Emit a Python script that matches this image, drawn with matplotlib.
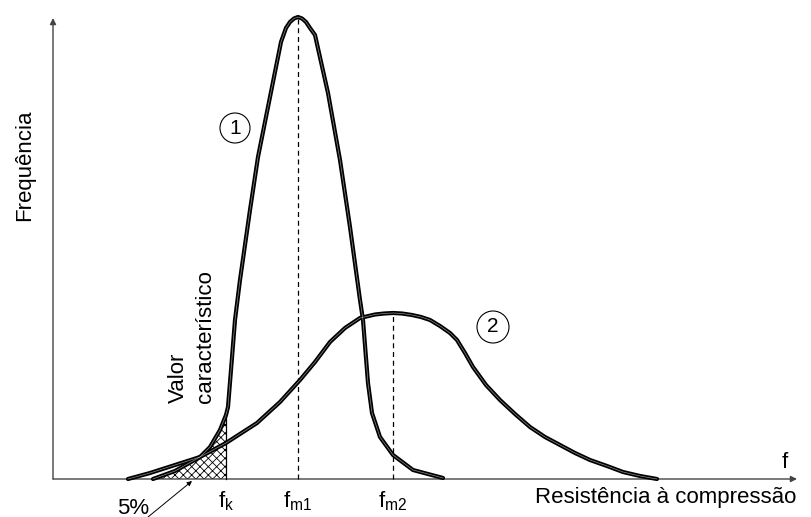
import matplotlib
matplotlib.use("Agg")
import matplotlib.pyplot as plt
from matplotlib.patches import Circle

plt.rcParams['font.family'] = ['Liberation Sans', 'DejaVu Sans']
plt.rcParams['mathtext.fontset'] = 'custom'
plt.rcParams['mathtext.rm'] = 'Liberation Sans'
plt.rcParams['mathtext.it'] = 'Liberation Sans'
plt.rcParams['hatch.linewidth'] = 0.6

# --- data (resistance f, frequency), origin at the axes corner ---
# curve 1: narrow distribution
f1 = [100, 122, 147, 157, 167, 173, 175, 178, 182, 187, 197, 205, 219, 228, 233,
      237, 241, 245, 249, 253, 257, 262, 275, 287, 297, 307, 310, 315, 319, 327,
      340, 360, 390]
p1 = [0, 8, 22, 32, 49, 64, 72, 109, 159, 199, 269, 322, 392, 437, 451,
      457, 460.5, 462, 460.5, 457, 451, 444, 386, 319, 252, 179, 159, 96, 66, 42,
      24, 9, 1]
# curve 2: wide distribution
f2 = [75, 97, 122, 147, 173, 204, 227, 247, 262, 277, 292, 307, 322, 331, 340,
      349, 359, 368, 377, 387, 397, 404, 412, 420, 433, 447, 462, 477, 492, 507,
      522, 537, 554, 570, 587, 604]
p2 = [0, 6, 14, 22, 36, 56, 77, 99, 117, 137, 151, 161, 164.5, 165.5, 166,
      165.5, 164, 162, 159, 153, 146, 139, 126, 112, 94, 79, 65, 52, 42, 34,
      26, 19, 13, 7, 3, 0]

f_k = 173
f_m1 = 245
f_m2 = 340
p_k = 64       # curve 1 at f_k
p_m1 = 462
p_m2 = 166

x_max = 744
y_max = 461


def double_line(ax, x, y):
    ax.plot(x, y, color='black', lw=3.0, solid_capstyle='round', solid_joinstyle='round', zorder=4)
    ax.plot(x, y, color='white', lw=0.5, alpha=0.55, solid_joinstyle='round', zorder=5)


def plot_chart():
    fig = plt.figure(figsize=(8.11, 5.17), dpi=100)
    ax = fig.add_axes([0, 0, 1, 1])
    ax.set_xlim(-53, 758)
    ax.set_ylim(-38, 479)
    ax.axis('off')

    # axes with arrows
    ax.annotate('', xy=(0, y_max), xytext=(0, 0),
                arrowprops=dict(arrowstyle='-|>', color='#444444', lw=1.0,
                                mutation_scale=9, shrinkA=0, shrinkB=0))
    ax.annotate('', xy=(x_max, 0), xytext=(0, 0),
                arrowprops=dict(arrowstyle='-|>', color='#444444', lw=1.0,
                                mutation_scale=9, shrinkA=0, shrinkB=0))

    # hatched 5% area under curve 1 up to f_k
    fx = [x for x in f1 if x <= f_k]
    fy = p1[:len(fx)]
    ax.fill_between(fx, 0, fy, facecolor='none', edgecolor='black', hatch='xxxx', lw=0, zorder=2)
    ax.plot([f_k, f_k], [0, p_k], color='black', lw=0.9, zorder=3)

    # mean lines
    ax.plot([f_m1, f_m1], [0, p_m1], color='black', lw=0.9, ls=(0, (4, 3)), zorder=3)
    ax.plot([f_m2, f_m2], [0, p_m2], color='black', lw=0.9, ls=(0, (4, 3)), zorder=3)

    double_line(ax, f2, p2)
    double_line(ax, f1, p1)

    # circled curve numbers
    for (cx, cy, r, s) in [(182, 351, 15, '1'), (440, 152, 16, '2')]:
        ax.add_patch(Circle((cx, cy), r, facecolor='none', edgecolor='black', lw=0.8, zorder=6))
        ax.text(cx, cy, s, ha='center', va='center', fontsize=15, zorder=7)

    # labels
    ax.text(-28, 314, 'Frequência', rotation=90, ha='center', va='center', fontsize=16)
    ax.text(613, -18, 'Resistência à compressão', ha='center', va='center', fontsize=16)
    ax.text(732, 17, 'f', ha='center', va='center', fontsize=16)
    ax.text(139, 76, 'Valor\ncaracterístico', rotation=90, ha='center', va='bottom',
            multialignment='left', linespacing=1.35, fontsize=16)
    ax.text(f_k, -28, r'$\mathregular{f_k}$', ha='center', va='baseline', fontsize=16)
    ax.text(f_m1, -28, r'$\mathregular{f_{m1}}$', ha='center', va='baseline', fontsize=16)
    ax.text(f_m2, -28, r'$\mathregular{f_{m2}}$', ha='center', va='baseline', fontsize=16)

    # 5% leader
    ax.text(80, -29, '5%', ha='center', va='center', fontsize=16)
    ax.annotate('', xy=(139, -2), xytext=(95, -38),
                arrowprops=dict(arrowstyle='-|>', color='black', lw=0.7,
                                mutation_scale=7, shrinkA=0, shrinkB=0))

    fig.savefig('out.png', dpi=100)
    plt.close(fig)


if __name__ == "__main__":
    plot_chart()
